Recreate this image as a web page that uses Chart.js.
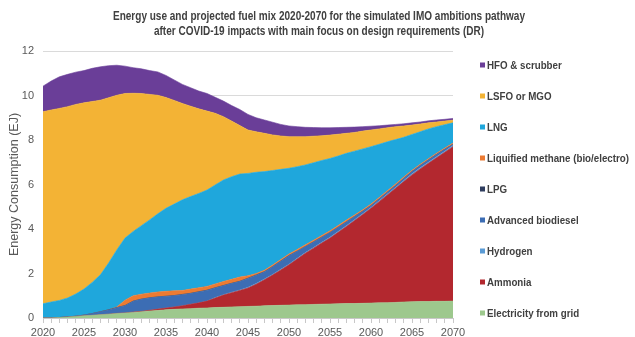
<!DOCTYPE html>
<html>
<head>
<meta charset="utf-8">
<script src="https://cdn.jsdelivr.net/npm/chart.js@4.4.1/dist/chart.umd.min.js"></script>
<style>
  html, body { margin: 0; padding: 0; background: #ffffff; }
  #wrap { width: 635px; height: 337px; }
</style>
</head>
<body>
<div id="wrap"><canvas id="c" width="635" height="337"></canvas></div>
<script>
// Years of the projection
const years = [2020,2021,2022,2023,2024,2025,2026,2027,2028,2029,
               2030,2031,2032,2033,2034,2035,2036,2037,2038,2039,
               2040,2041,2042,2043,2044,2045,2046,2047,2048,2049,
               2050,2051,2052,2053,2054,2055,2056,2057,2058,2059,
               2060,2061,2062,2063,2064,2065,2066,2067,2068,2069,2070];

// Labelled years on the horizontal axis
const xLabelYears = [2020,2025,2030,2035,2040,2045,2050,2055,2060,2065,2070];

// Energy use per fuel (EJ), stacked from the bottom up
const electricity = [0,0,0.02,0.04,0.07,0.1,0.12,0.15,0.17,0.2,
                     0.22,0.25,0.28,0.31,0.34,0.37,0.39,0.41,0.42,0.44,
                     0.45,0.47,0.48,0.5,0.51,0.52,0.53,0.55,0.56,0.57,
                     0.58,0.59,0.6,0.61,0.62,0.63,0.64,0.65,0.65,0.66,
                     0.67,0.68,0.69,0.7,0.72,0.73,0.74,0.74,0.75,0.75,0.76];
const ammonia = [0,0,0,0,0,0,0,0,0,0.01,
                 0.01,0.02,0.02,0.04,0.06,0.08,0.11,0.14,0.2,0.24,
                 0.31,0.43,0.55,0.64,0.73,0.83,0.99,1.17,1.37,1.59,
                 1.81,2.06,2.31,2.53,2.75,2.96,3.21,3.46,3.73,3.99,
                 4.26,4.55,4.84,5.13,5.41,5.7,5.96,6.21,6.45,6.7,6.94];
const hydrogen = [0,0,0,0,0,0,0,0,0,0,
                  0,0,0,0,0,0,0,0,0,0,
                  0,0.02,0.02,0.02,0.02,0.03,0.03,0.03,0.03,0.03,
                  0.03,0.03,0.03,0.03,0.03,0.04,0.04,0.04,0.04,0.04,
                  0.04,0.04,0.04,0.04,0.05,0.05,0.05,0.05,0.05,0.05,0.05];
const biodiesel = [0,0,0,0.01,0.01,0.03,0.08,0.13,0.19,0.25,
                   0.32,0.48,0.54,0.55,0.54,0.52,0.5,0.5,0.48,0.49,
                   0.48,0.43,0.4,0.39,0.38,0.4,0.37,0.32,0.34,0.36,
                   0.38,0.32,0.27,0.25,0.23,0.21,0.19,0.17,0.14,0.11,
                   0.08,0.08,0.08,0.08,0.09,0.1,0.1,0.1,0.1,0.08,0.05];
const lpg = [0,0,0,0,0,0,0,0,0.01,0.01,
             0.01,0.01,0.01,0.01,0.01,0.01,0.01,0.01,0.01,0.01,
             0.01,0.01,0.01,0.01,0.01,0.01,0.01,0.01,0.01,0.01,
             0.01,0,0,0,0,0,0,0,0,0,
             0,0,0,0,0,0,0,0,0,0,0];
const methane = [0,0,0,0,0,0,0,0,0,0.03,
                 0.24,0.24,0.22,0.21,0.22,0.22,0.21,0.18,0.19,0.18,
                 0.17,0.17,0.18,0.18,0.19,0.11,0.07,0.07,0.07,0.07,
                 0.07,0.08,0.08,0.08,0.08,0.08,0.08,0.08,0.07,0.07,
                 0.07,0.07,0.07,0.07,0.07,0.06,0.06,0.06,0.06,0.06,0.06];
const lng = [0.64,0.72,0.77,0.85,1.0,1.17,1.4,1.66,2.1,2.56,
             2.79,2.89,3.08,3.29,3.51,3.73,3.9,4.07,4.16,4.24,
             4.33,4.45,4.56,4.61,4.63,4.6,4.55,4.43,4.25,4.05,
             3.85,3.72,3.59,3.48,3.37,3.25,3.12,3.0,2.87,2.73,
             2.58,2.39,2.2,2.0,1.78,1.61,1.46,1.34,1.19,1.05,0.91];
const lsfo = [8.63,8.63,8.63,8.6,8.52,8.37,8.13,7.85,7.43,6.95,
              6.5,6.21,5.94,5.64,5.33,4.98,4.66,4.33,4.06,3.8,
              3.55,3.22,2.85,2.5,2.18,1.95,1.82,1.72,1.6,1.5,
              1.42,1.35,1.27,1.19,1.11,1.05,0.98,0.9,0.84,0.8,
              0.75,0.69,0.63,0.58,0.51,0.42,0.35,0.27,0.21,0.16,0.12];
const hfo = [1.15,1.3,1.42,1.45,1.45,1.45,1.49,1.5,1.44,1.35,
             1.23,1.15,1.11,1.07,1.05,0.99,0.92,0.86,0.83,0.8,
             0.79,0.72,0.7,0.7,0.72,0.7,0.63,0.6,0.57,0.52,
             0.48,0.45,0.42,0.39,0.36,0.33,0.3,0.27,0.24,0.2,
             0.17,0.14,0.12,0.1,0.1,0.1,0.09,0.09,0.09,0.08,0.08];

const titleLines = [
  'Energy use and projected fuel mix 2020-2070 for the simulated IMO ambitions pathway',
  'after COVID-19 impacts with main focus on design requirements (DR)'
];

const SANS = '"Liberation Sans", Arial, sans-serif';

// Series in stacking order (bottom first)
const seriesDefs = [
  ['Electricity from grid', electricity, '#9dc88d'],
  ['Ammonia', ammonia, '#b3282f'],
  ['Hydrogen', hydrogen, '#5b9bd5'],
  ['Advanced biodiesel', biodiesel, '#3c6db4'],
  ['LPG', lpg, '#2f3d5f'],
  ['Liquified methane (bio/electro)', methane, '#ec7b32'],
  ['LNG', lng, '#1fa7dc'],
  ['LSFO or MGO', lsfo, '#f3b335'],
  ['HFO & scrubber', hfo, '#6a3e98']
];

const datasets = seriesDefs.map(([label, values, color], i) => ({
  label,
  data: years.map((yr, k) => ({ x: yr, y: values[k] })),
  backgroundColor: color,
  borderColor: color,
  borderWidth: 0.6,
  pointRadius: 0,
  tension: 0,
  fill: i === 0 ? 'origin' : '-1'
}));

// Draws text squeezed horizontally to a condensed look
function condensedText(ctx, text, x, y, sx) {
  ctx.save();
  ctx.translate(x, y);
  ctx.scale(sx, 1);
  ctx.fillText(text, 0, 0);
  ctx.restore();
}

// Title and legend painted around the plot
const headerLegend = {
  id: 'headerLegend',
  afterDraw(chart) {
    const ctx = chart.ctx;
    ctx.save();
    ctx.textBaseline = 'middle';
    ctx.fillStyle = '#404040';

    // two-line title, condensed and centred on the canvas
    ctx.font = 'bold 12px ' + SANS;
    ctx.textAlign = 'center';
    const tScale = 412 / ctx.measureText(titleLines[0]).width;
    condensedText(ctx, titleLines[0], 319, 17, tScale);
    condensedText(ctx, titleLines[1], 319, 31.5, tScale);

    // legend, top entry first
    ctx.textAlign = 'left';
    ctx.font = 'bold 11px ' + SANS;
    const items = chart.data.datasets.slice().reverse();
    const longest = Math.max(...items.map(d => ctx.measureText(d.label).width));
    const lScale = Math.min(1, 142 / longest);
    items.forEach((d, i) => {
      const cy = 65 + i * 31;
      ctx.fillStyle = d.backgroundColor;
      ctx.fillRect(480, cy - 2.5, 5, 5);
      ctx.fillStyle = '#404040';
      condensedText(ctx, d.label, 487, cy + 0.5, lScale);
    });
    ctx.restore();
  }
};

new Chart(document.getElementById('c'), {
  type: 'line',
  data: { datasets },
  options: {
    responsive: false,
    animation: false,
    layout: { padding: { top: 51, right: 182, bottom: 0, left: 0 } },
    plugins: {
      legend: { display: false },
      title: { display: false },
      tooltip: { enabled: false },
      filler: { propagate: false }
    },
    scales: {
      x: {
        type: 'linear',
        min: 2020,
        max: 2070,
        afterFit(s) { s.height = 19; },
        afterBuildTicks(s) {
          s.ticks = years.map(v => ({ value: v }));
        },
        ticks: {
          autoSkip: false,
          maxRotation: 0,
          padding: 3,
          color: '#595959',
          font: { family: SANS, size: 11 },
          callback: v => (xLabelYears.includes(v) ? String(v) : '')
        },
        grid: {
          drawOnChartArea: false,
          drawTicks: true,
          tickLength: 5,
          color: '#c8c8c8'
        },
        border: { color: '#c8c8c8' }
      },
      y: {
        stacked: true,
        min: 0,
        max: 12,
        afterFit(s) { s.width = 43; },
        ticks: {
          stepSize: 2,
          padding: 9,
          color: '#595959',
          font: { family: SANS, size: 11 }
        },
        grid: { color: '#dadada', drawTicks: false },
        border: { display: false },
        title: {
          display: true,
          text: 'Energy Consumption (EJ)',
          color: '#595959',
          font: { family: SANS, size: 12.5 },
          padding: { top: 7, bottom: 0 }
        }
      }
    }
  },
  plugins: [headerLegend]
});
</script>
</body>
</html>
